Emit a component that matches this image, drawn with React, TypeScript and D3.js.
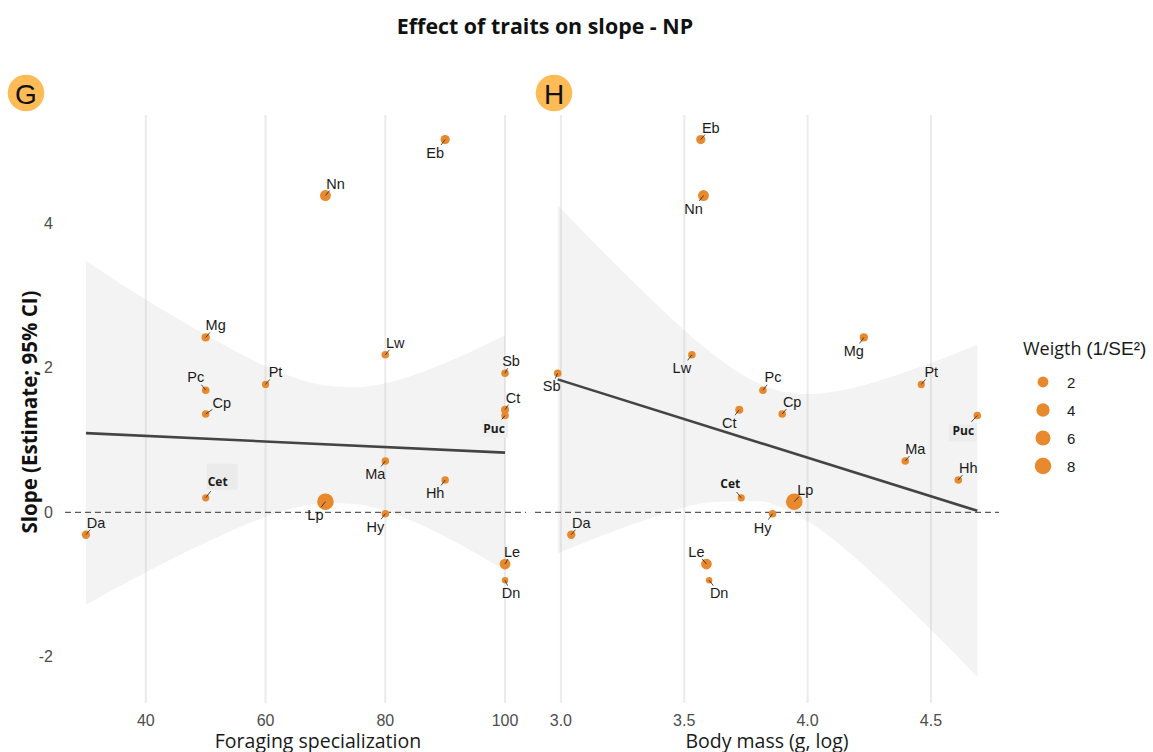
import React from "react";
import * as d3 from "d3";

// ---------- data ----------
const species = ["Da", "Pc", "Cp", "Mg", "Pt", "Nn", "Eb", "Lw", "Sb", "Ct", "Puc", "Ma", "Hh", "Hy", "Lp", "Cet", "Le", "Dn"];
const slopeEstimate = [-0.31, 1.69, 1.36, 2.42, 1.77, 4.385, 5.16, 2.18, 1.925, 1.42, 1.34, 0.71, 0.447, -0.02, 0.147, 0.2, -0.716, -0.94];
const foraging = [30, 50, 50, 50, 60, 70, 90, 80, 100, 100, 100, 80, 90, 80, 70, 50, 100, 100];
const bodyMass = [3.042, 3.819, 3.897, 4.228, 4.461, 3.578, 3.567, 3.531, 2.987, 3.723, 4.688, 4.396, 4.611, 3.858, 3.946, 3.731, 3.59, 3.601];
const weight = [0.8, 0.6, 0.6, 0.75, 0.55, 2.0, 1.1, 0.6, 0.6, 0.7, 0.6, 0.6, 0.6, 0.6, 8.2, 0.55, 1.9, 0.5];
const groupLabels = ["Cet", "Puc"];

const fitGx = [30, 100];
const fitGy = [1.096, 0.826];
const ribbonGx = [30, 40, 50, 60, 65, 70, 75, 80, 90, 100];
const ribbonGupper = [3.48, 2.945, 2.457, 2.025, 1.86, 1.755, 1.73, 1.786, 2.066, 2.456];
const ribbonGlower = [-1.28, -0.831, -0.419, -0.065, 0.062, 0.127, 0.114, 0.02, -0.338, -0.804];

const fitHx = [2.987, 4.688];
const fitHy = [1.84, 0.02];
const ribbonHx = [2.987, 3.2, 3.4, 3.6, 3.8, 3.9, 4.0, 4.2, 4.4, 4.6, 4.688];
const ribbonHupper = [4.25, 3.505, 2.838, 2.232, 1.785, 1.67, 1.636, 1.735, 1.946, 2.2, 2.32];
const ribbonHlower = [-0.57, -0.281, -0.042, 0.136, 0.155, 0.056, -0.122, -0.651, -1.29, -1.97, -2.28];

const yTicks = [-2, 0, 2, 4];
const xTicksG = [40, 60, 80, 100];
const xTicksH = [3.0, 3.5, 4.0, 4.5];
const legendBreaks = [2, 4, 6, 8];

// ---------- layout (label placement, px offsets from point) ----------
const labelOffsetG: Record<string, [number, number]> = {
  Da: [10, -12], Pc: [-10, -13], Cp: [16, -11], Mg: [10, -12], Pt: [10, -12], Nn: [10, -12],
  Eb: [-10, 13], Lw: [10, -12], Sb: [6, -12], Ct: [8, -12], Puc: [-11, 13], Ma: [-10, 13],
  Hh: [-10, 13], Hy: [-10, 13], Lp: [-10, 13], Cet: [12, -16], Le: [7, -12], Dn: [6, 13],
};
const labelOffsetH: Record<string, [number, number]> = {
  Da: [10, -12], Pc: [10, -13], Cp: [10, -12], Mg: [-10, 14], Pt: [10, -12], Nn: [-10, 13],
  Eb: [10, -12], Lw: [-10, 13], Sb: [-6, 13], Ct: [-10, 13], Puc: [-14, 15], Ma: [10, -12],
  Hh: [10, -12], Hy: [-10, 14], Lp: [11, -12], Cet: [-11, -14], Le: [-10, -12], Dn: [10, 13],
};
// background boxes for group labels: [dx, dy, w, h, fill] relative to label centre
const boxG: Record<string, [number, number, number, number, string]> = {
  Cet: [-11, -18, 31, 26, "#ebebeb"],
  Puc: [-13, -9, 27, 18, "#efefef"],
};
const boxH: Record<string, [number, number, number, number, string]> = {
  Puc: [-14.5, -6, 28, 17, "#ececec"],
};

const W = 1153;
const H = 752;
const PT_COLOR = "#E8892E";
const SANS = "'Liberation Sans', Arial, sans-serif";
const OPEN = "'Open Sans', 'Noto Sans', sans-serif";

const yScale = d3.scaleLinear().domain([-2.64, 5.5]).range([703, 115]);
const xG = d3.scaleLinear().domain([26.5, 103.5]).range([65, 526]);
const xH = d3.scaleLinear().domain([2.895, 4.776]).range([535, 999]);

const wMin = d3.min(weight) as number;
const wMax = d3.max(weight) as number;
const tScale = d3.scaleLinear().domain([wMin, wMax]).range([0, 1]).clamp(true);
const rScale = d3.scaleLinear().domain([0, 1]).range([3.2, 8.3]);
const radius = (w: number) => rScale(Math.sqrt(tScale(w)));

type PanelProps = {
  xs: number[];
  x: d3.ScaleLinear<number, number>;
  ticks: number[];
  tickFmt: (v: number) => string;
  fitX: number[];
  fitY: number[];
  rX: number[];
  rU: number[];
  rL: number[];
  offsets: Record<string, [number, number]>;
  boxes: Record<string, [number, number, number, number, string]>;
  title: string;
  titleX: number;
  badge: string;
  badgeX: number;
};

function Panel(p: PanelProps) {
  const [x0, x1] = p.x.range();
  const area = d3
    .area<number>()
    .x((_, i) => p.x(p.rX[i]))
    .y0((_, i) => yScale(p.rL[i]))
    .y1((_, i) => yScale(p.rU[i]))
    .curve(d3.curveMonotoneX);
  const line = d3
    .line<number>()
    .x((_, i) => p.x(p.fitX[i]))
    .y((_, i) => yScale(p.fitY[i]));
  return (
    <g>
      {p.ticks.map((t) => (
        <line key={"g" + t} x1={p.x(t)} x2={p.x(t)} y1={115} y2={703} stroke="#ebebeb" strokeWidth={2} />
      ))}
      <path d={area(p.rX) || ""} fill="#bdbdbd" fillOpacity={0.18} />
      <line x1={x0} x2={x1} y1={yScale(0)} y2={yScale(0)} stroke="#333" strokeWidth={1} strokeDasharray="6,4" />
      <path d={line(p.fitX) || ""} stroke="#444" strokeWidth={2.6} fill="none" />
      {species.map((s, i) => {
        const cx = p.x(p.xs[i]);
        const cy = yScale(slopeEstimate[i]);
        return <circle key={"p" + s} cx={cx} cy={cy} r={radius(weight[i])} fill={PT_COLOR} />;
      })}
      {species.map((s, i) => {
        const cx = p.x(p.xs[i]);
        const cy = yScale(slopeEstimate[i]);
        const [dx, dy] = p.offsets[s];
        const lx = cx + dx;
        const ly = cy + dy;
        const isGroup = groupLabels.includes(s);
        const box = p.boxes[s];
        return (
          <g key={"l" + s}>
            <line x1={cx} y1={cy} x2={cx + dx * 0.42} y2={cy + dy * 0.42} stroke="#222" strokeWidth={0.8} />
            {box && <rect x={lx + box[0]} y={ly + box[1]} width={box[2]} height={box[3]} fill={box[4]} />}
            <text
              x={lx}
              y={ly}
              textAnchor="middle"
              dominantBaseline="central"
              fontFamily={isGroup ? OPEN : SANS}
              fontWeight={isGroup ? 700 : 400}
              fontSize={isGroup ? 12 : 14.5}
              fill="#1a1a1a"
            >
              {s}
            </text>
          </g>
        );
      })}
      {p.ticks.map((t) => (
        <text key={"t" + t} x={p.x(t)} y={720} textAnchor="middle" dominantBaseline="central" fontFamily={SANS} fontSize={16} fill="#4d4d4d">
          {p.tickFmt(t)}
        </text>
      ))}
      <text x={p.titleX} y={740} textAnchor="middle" dominantBaseline="central" fontFamily={OPEN} fontSize={19.5} fill="#1a1a1a">
        {p.title}
      </text>
      <circle cx={p.badgeX} cy={93} r={18.3} fill="#FFBB55" />
      <text x={p.badgeX} y={94} textAnchor="middle" dominantBaseline="central" fontFamily={SANS} fontSize={28} fill="#111">
        {p.badge}
      </text>
    </g>
  );
}

export default function App() {
  return (
    <svg width={W} height={H} style={{ display: "block", position: "absolute", left: 0, top: 0, background: "#fff" }}>
      <rect width={W} height={H} fill="#fff" />
      <text x={545} y={25} textAnchor="middle" dominantBaseline="central" fontFamily={OPEN} fontWeight={700} fontSize={21.4} fill="#111">
        Effect of traits on slope - NP
      </text>
      {yTicks.map((t) => (
        <text key={"y" + t} x={53} y={yScale(t)} textAnchor="end" dominantBaseline="central" fontFamily={SANS} fontSize={16} fill="#4d4d4d">
          {t}
        </text>
      ))}
      <text
        transform={`translate(29,${412}) rotate(-90)`}
        textAnchor="middle"
        dominantBaseline="central"
        fontFamily={OPEN}
        fontWeight={700}
        fontSize={20.5}
        fill="#111"
      >
        Slope (Estimate; 95% CI)
      </text>
      <Panel
        xs={foraging}
        x={xG}
        ticks={xTicksG}
        tickFmt={(v) => String(v)}
        fitX={fitGx}
        fitY={fitGy}
        rX={ribbonGx}
        rU={ribbonGupper}
        rL={ribbonGlower}
        offsets={labelOffsetG}
        boxes={boxG}
        title="Foraging specialization"
        titleX={318}
        badge="G"
        badgeX={26}
      />
      <Panel
        xs={bodyMass}
        x={xH}
        ticks={xTicksH}
        tickFmt={(v) => v.toFixed(1)}
        fitX={fitHx}
        fitY={fitHy}
        rX={ribbonHx}
        rU={ribbonHupper}
        rL={ribbonHlower}
        offsets={labelOffsetH}
        boxes={boxH}
        title="Body mass (g, log)"
        titleX={767}
        badge="H"
        badgeX={554}
      />
      <g>
        <text x={1023} y={348} dominantBaseline="central" fill="#1a1a1a">
          <tspan fontFamily={OPEN} fontSize={18}>Weigth </tspan>
          <tspan fontFamily={SANS} fontSize={19}>(1/SE²)</tspan>
        </text>
        {legendBreaks.map((b, i) => (
          <g key={"lg" + b}>
            <circle cx={1043} cy={382 + i * 28} r={radius(b)} fill={PT_COLOR} />
            <text x={1067} y={382 + i * 28} dominantBaseline="central" fontFamily={SANS} fontSize={15} fill="#1a1a1a">
              {b}
            </text>
          </g>
        ))}
      </g>
    </svg>
  );
}
